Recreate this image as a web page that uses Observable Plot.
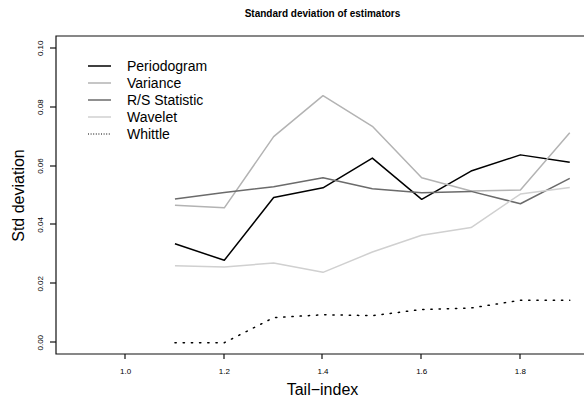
<!DOCTYPE html>
<html><head><meta charset="utf-8">
<script src="https://cdn.jsdelivr.net/npm/d3@7"></script>
<script src="https://cdn.jsdelivr.net/npm/@observablehq/plot@0.6"></script>
<style>
body{margin:0;background:#fff;overflow:hidden;}
svg{display:block;}
</style></head><body>
<script>
const tailIndex   = [1.1, 1.2, 1.3, 1.4, 1.5, 1.6, 1.7, 1.8, 1.9];
const periodogram = [0.0336, 0.0280, 0.0493, 0.0526, 0.0627, 0.0487, 0.0583, 0.0638, 0.0613];
const variance    = [0.0467, 0.0458, 0.0700, 0.0839, 0.0735, 0.0560, 0.0515, 0.0519, 0.0713];
const rsStatistic = [0.0488, 0.0510, 0.0530, 0.0560, 0.0523, 0.0509, 0.0514, 0.0472, 0.0558];
const wavelet     = [0.0261, 0.0257, 0.0271, 0.0239, 0.0308, 0.0365, 0.0391, 0.0505, 0.0527];
const whittle     = [0.0000, 0.0000, 0.0085, 0.0095, 0.0092, 0.0113, 0.0118, 0.0144, 0.0144];
const seriesNames = ["Periodogram", "Variance", "R/S Statistic", "Wavelet", "Whittle"];
const xTicks = [1.0, 1.2, 1.4, 1.6, 1.8];
const yTicks = [0.00, 0.02, 0.04, 0.06, 0.08, 0.10];

const seriesValues = [periodogram, variance, rsStatistic, wavelet, whittle];
const colors = ["#000000", "#b3b3b3", "#6b6b6b", "#d0d0d0", "#000000"];
const dashes = [null, null, null, null, "1.3,6.9"];
const legendDashes = [null, null, null, null, "1,1.6"];
const font = "'Liberation Sans', Arial, Helvetica, sans-serif";
const xDomain = [0.86, 1.94];
const yDomain = [-0.004, 0.104];

const lineMarks = seriesNames.map((name, i) =>
  Plot.line(tailIndex.map((t, j) => ({t, v: seriesValues[i][j]})), {
    x: "t", y: "v", stroke: colors[i], strokeWidth: 1.5,
    strokeDasharray: dashes[i], strokeLinecap: dashes[i] ? "round" : "butt"
  })
);

const chart = Plot.plot({
  width: 584, height: 396,
  marginLeft: 56, marginTop: 36, marginBottom: 42, marginRight: 0,
  style: {fontFamily: font},
  x: {domain: xDomain, range: [56, 589]},
  y: {domain: yDomain, axis: null},
  marks: [
    Plot.axisX({ticks: xTicks, tickFormat: d3.format(".1f"), tickSize: 0, tickPadding: 14, fontSize: 8, label: null}),
    Plot.text(yTicks, {y: d => d, text: d => d3.format(".2f")(d), frameAnchor: "left", dx: -16, rotate: -90,
      textAnchor: "middle", lineAnchor: "middle", fontSize: 8, fill: "#000"}),
    ...lineMarks,
    Plot.text(["Standard deviation of estimators"], {frameAnchor: "top", dx: 2, dy: -23, lineAnchor: "middle",
      fontSize: 10, fontWeight: "bold", fill: "#000"}),
    Plot.text(["Tail\u2212index"], {frameAnchor: "bottom", dx: 2, dy: 40, lineAnchor: "bottom", fontSize: 16, fill: "#000"}),
    Plot.text(["Std deviation"], {frameAnchor: "left", dx: -33, rotate: -90, lineAnchor: "bottom",
      textAnchor: "middle", fontSize: 16, fill: "#000"})
  ]
});

const svg = d3.select(chart);
// box and ticks, positioned through Plot's own scales
const sx = chart.scale("x"), sy = chart.scale("y");
const x0 = Math.round(sx.apply(xDomain[0])), x1 = Math.round(sx.apply(xDomain[1]));
const yb = Math.round(sy.apply(yDomain[0])), yt = Math.round(sy.apply(yDomain[1]));
const box = svg.append("g").attr("stroke", "#111").attr("stroke-width", 1.2).attr("fill", "none");
box.append("path").attr("d", `M${x1},${yt}H${x0}V${yb}H${x1}`);
xTicks.forEach(v => {
  const px = Math.round(sx.apply(v));
  box.append("line").attr("x1", px).attr("x2", px).attr("y1", yb).attr("y2", yb + 5);
});
yTicks.forEach(v => {
  const py = Math.round(sy.apply(v));
  box.append("line").attr("y1", py).attr("y2", py).attr("x1", x0).attr("x2", x0 - 6);
});

// legend inside the plot region, top-left
const lg = svg.append("g").attr("font-family", font).attr("font-size", 14).attr("text-anchor", "start");
seriesNames.forEach((name, i) => {
  const cy = 66 + i * 17;
  lg.append("line").attr("x1", 88).attr("x2", 111).attr("y1", cy).attr("y2", cy)
    .attr("stroke", colors[i]).attr("stroke-width", i === 4 ? 1 : 1.5)
    .attr("stroke-dasharray", legendDashes[i]);
  lg.append("text").attr("x", 127).attr("y", cy).attr("dy", "0.35em").attr("fill", "#000")
    .attr("text-anchor", "start").text(name);
});

document.body.appendChild(chart);
</script>
</body></html>
